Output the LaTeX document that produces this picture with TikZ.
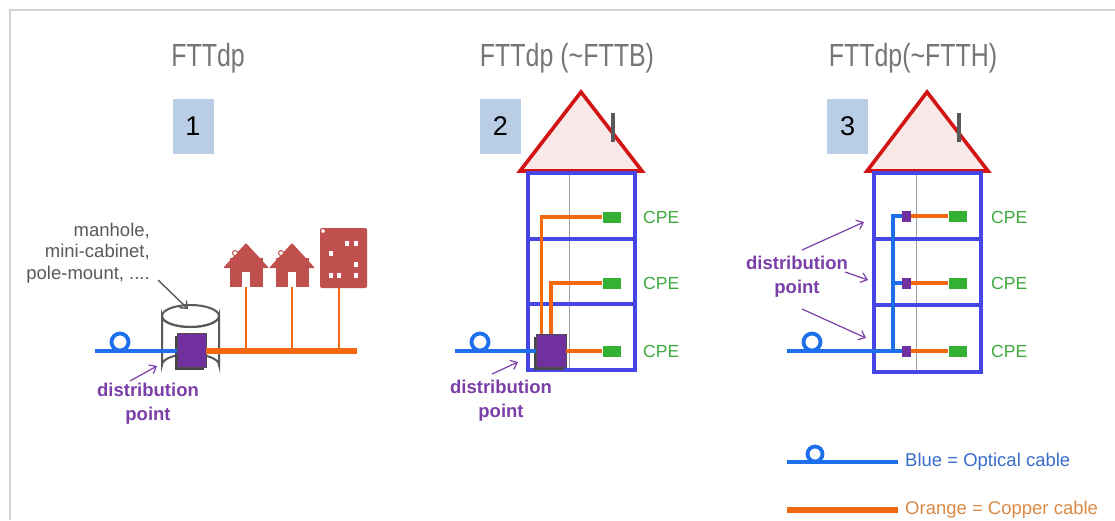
\documentclass[tikz,border=0pt]{standalone}
\usepackage{fontspec}
\setmainfont{Liberation Sans}
\newfontfamily\condfont[FakeStretch=0.78]{Liberation Sans}
\usetikzlibrary{arrows.meta,calc,shadows}

\definecolor{framegray}{HTML}{D4D4D4}
\definecolor{titlegray}{HTML}{767676}
\definecolor{numblue}{HTML}{B9CDE5}
\definecolor{optblue}{HTML}{1E6FEB}
\definecolor{copperor}{HTML}{F4690F}
\definecolor{wallblue}{HTML}{4646E6}
\definecolor{roofred}{HTML}{D21414}
\definecolor{rooffill}{HTML}{F8E8E8}
\definecolor{dppurple}{HTML}{7030A0}
\definecolor{dptext}{HTML}{7B3FA8}
\definecolor{cpegreen}{HTML}{34B034}
\definecolor{cpetext}{HTML}{3DAA3D}
\definecolor{housered}{HTML}{C0504D}
\definecolor{notegray}{HTML}{5A5A5A}
\definecolor{legblue}{HTML}{3A6CCB}
\definecolor{legorange}{HTML}{DB8A45}

\tikzset{
  title/.style={font=\condfont\fontsize{32}{36}\selectfont, text=titlegray, anchor=base, inner sep=0pt},
  numbox/.style={fill=numblue, minimum width=41pt, minimum height=55pt, inner sep=0pt,
    font=\fontsize{27}{30}\selectfont},
  optical/.style={draw=optblue, line width=3.8pt},
  trunk/.style={draw=copperor, line width=6pt},
  drop/.style={draw=copperor, line width=1.8pt},
  copperline/.style={draw=copperor, line width=3.4pt},
  wall/.style={draw=wallblue, line width=3.6pt},
  roof/.style={draw=roofred, fill=rooffill, line width=3.6pt, line join=miter},
  chimney/.style={draw=gray!70!black, line width=4pt},
  midline/.style={draw=gray!75, line width=1pt},
  cpebox/.style={fill=cpegreen, minimum width=18pt, minimum height=11pt, inner sep=0pt},
  cpelabel/.style={text=cpetext, font=\fontsize{17.5}{20}\selectfont, anchor=west, inner sep=0pt},
  dplabel/.style={text=dptext, font=\bfseries\fontsize{18.5}{24}\selectfont, align=center, inner sep=0pt},
  dparrow/.style={draw=dptext, line width=1.2pt, -{Straight Barb[length=6pt,width=10pt]}},
  dpbox/.style={fill=dppurple, draw=gray!60!black, line width=0.6pt, inner sep=0pt,
    drop shadow={shadow xshift=-2.5pt, shadow yshift=-2.5pt, fill=gray!55!black, opacity=1}},
  dpsmall/.style={fill=dppurple, minimum width=9pt, minimum height=11pt, inner sep=0pt},
  house/.style={fill=housered, draw=none},
  legtext/.style={anchor=base west, inner sep=0pt, font=\fontsize{18.5}{21}\selectfont},
}

\begin{document}
\begin{tikzpicture}[x=1pt,y=-1pt]
\useasboundingbox (0,0) rectangle (1115,520);
\fill[white] (0,0) rectangle (1115,520);
% outer frame (top and left edges)
\draw[framegray, line width=1.5pt] (10,520) -- (10,10) -- (1115,10);

% ---------------- titles and numbers ----------------
\node[title] (t1) at (208,66) {FTTdp};
\node[title] (t2) at (567,66) {FTTdp (\char"007E FTTB)};
\node[title] (t3) at (913,66) {FTTdp(\char"007E FTTH)};
\node[numbox] (n1) at (193,126.5) {1};
\node[numbox] (n2) at (500.5,126.5) {2};
\node[numbox] (n3) at (847.5,126.5) {3};

% ================= panel 1 : street =================
% houses
\fill[house, rounded corners=1pt] (223,268) -- (246,243) -- (269,268) -- cycle;
\fill[house] (230,258) rectangle (263,287);
\fill[white] (242,272) rectangle (250,287);
\filldraw[fill=white, draw=housered, line width=1pt] (235,253) circle[radius=2.5];
\fill[house, rounded corners=1pt] (269,268) -- (292,243) -- (315,268) -- cycle;
\fill[house] (276,258) rectangle (309,287);
\fill[white] (288,272) rectangle (296,287);
\filldraw[fill=white, draw=housered, line width=1pt] (281,253) circle[radius=2.5];
% apartment block
\fill[house, rounded corners=2pt] (320,228) rectangle (367,288);
\filldraw[fill=white, draw=housered, line width=1pt] (323,231) circle[radius=2.5];
\foreach \wx/\wy in {345/241, 354/241, 329/251, 354/262, 329/273, 337/273, 354/273}
  \fill[white] (\wx,\wy) rectangle ++(3.5,5);

\coordinate (h1) at (246,287);
\coordinate (h2) at (292,287);
\coordinate (h3) at (339,288);
\coordinate (b1) at (246,351);
\coordinate (b2) at (292,351);
\coordinate (b3) at (339,351);
\draw[drop] (h1) -- (b1);
\draw[drop] (h2) -- (b2);
\draw[drop] (h3) -- (b3);

% cabinet (cylinder)
\filldraw[fill=white, draw=gray!70!black, line width=2pt]
  (162,316) -- (162,365) arc[start angle=180, end angle=360, x radius=28.5, y radius=11]
  -- (219,316) arc[start angle=0, end angle=180, x radius=28.5, y radius=11] -- cycle;
\draw[gray!70!black, line width=2pt] (190.5,316) ellipse[x radius=28.5, y radius=11];

\node[dpbox, minimum width=29pt, minimum height=34pt] (dp1) at (191.5,350) {};
\coordinate (o1s) at (95,351);
\coordinate (c1e) at (357,351);
\draw[optical] (o1s) -- (dp1.west |- o1s);
\draw[optical] (120,342) circle[radius=8.5];
\draw[trunk] (dp1.east |- c1e) -- (c1e);

% note
\node[anchor=east, align=right, inner sep=0pt, text=notegray,
      font=\fontsize{18.5}{21.5}\selectfont] (note) at (150,253)
  {manhole,\\mini-cabinet,\\pole-mount, ....};
\coordinate (na) at (158,280);
\coordinate (nb) at (188,309);
\draw[gray!70!black, line width=1.4pt, -{Straight Barb[length=6pt,width=10pt]}] (na) -- (nb);

\node[dplabel] (dl1) at (148,404) {distribution\\point};
\coordinate (a1s) at (130,381);
\coordinate (a1e) at (157,366);
\draw[dparrow] (a1s) -- (a1e);

% ================= panel 2 : FTTB =================
\draw[roof] (520,171) -- (581,92) -- (642,171) -- cycle;
\draw[chimney] (613,113) -- (613,142);
\draw[midline] (569,173) -- (569,370);
\draw[wall] (528,173) rectangle (635,370);
\draw[wall] (528,239) -- (635,239);
\draw[wall] (528,304) -- (635,304);

\node[cpebox] (c21) at (611.5,217) {};
\node[cpebox] (c22) at (611.5,283) {};
\node[cpebox] (c23) at (611.5,351) {};
\node[cpelabel] (l21) at (643,217) {CPE};
\node[cpelabel] (l22) at (643,283) {CPE};
\node[cpelabel] (l23) at (643,351) {CPE};

\node[dpbox, minimum width=30pt, minimum height=33pt] (dp2) at (551,350.5) {};
\draw[copperline] ($(dp2.north west)+(6,0)$) |- (c21.west);
\draw[copperline] ($(dp2.north)+(0,0)$) |- (c22.west);
\draw[copperline] (dp2.east |- c23) -- (c23.west);

\coordinate (o2s) at (455,351);
\draw[optical] (o2s) -- (dp2.west |- o2s);
\draw[optical] (480,342) circle[radius=8.5];

\node[dplabel] (dl2) at (501,401) {distribution\\point};
\coordinate (a2s) at (492,374);
\coordinate (a2e) at (518,362);
\draw[dparrow] (a2s) -- (a2e);

% ================= panel 3 : FTTH =================
\draw[roof] (867,171) -- (927,92) -- (988,171) -- cycle;
\draw[chimney] (959,113) -- (959,142);
\draw[midline] (916,173) -- (916,372);
\draw[wall] (874,173) rectangle (981,372);
\draw[wall] (874,239) -- (981,239);
\draw[wall] (874,305) -- (981,305);

\node[dpsmall] (p31) at (906.5,216) {};
\node[dpsmall] (p32) at (906.5,283) {};
\node[dpsmall] (p33) at (906.5,351) {};
\node[cpebox] (c31) at (957.5,216) {};
\node[cpebox] (c32) at (957.5,283) {};
\node[cpebox] (c33) at (957.5,351) {};
\node[cpelabel] (l31) at (991,217) {CPE};
\node[cpelabel] (l32) at (991,283) {CPE};
\node[cpelabel] (l33) at (991,351) {CPE};
\draw[copperline] (p31.east) -- (c31.west);
\draw[copperline] (p32.east) -- (c32.west);
\draw[copperline] (p33.east) -- (c33.west);

\coordinate (o3s) at (787,351);
\coordinate (riser) at (893,351);
\draw[optical] (o3s) -- (p33.west);
\draw[optical] (riser) |- (p31.west);
\draw[optical] (riser |- p32) -- (p32.west);
\draw[optical] (812,342) circle[radius=8.5];

\node[dplabel] (dl3) at (797,277) {distribution\\point};
\coordinate (a31s) at (802,250);
\coordinate (a31e) at (864,222);
\coordinate (a32s) at (845,272);
\coordinate (a32e) at (868,280);
\coordinate (a33s) at (802,309);
\coordinate (a33e) at (866,338);
\draw[dparrow] (a31s) -- (a31e);
\draw[dparrow] (a32s) -- (a32e);
\draw[dparrow] (a33s) -- (a33e);

% ================= legend =================
\coordinate (lb1) at (787,462);
\coordinate (lb2) at (898,462);
\coordinate (lo1) at (787,510);
\coordinate (lo2) at (898,510);
\draw[optical] (lb1) -- (lb2);
\draw[optical] (815,454) circle[radius=7.5];
\draw[trunk] (lo1) -- (lo2);
\node[legtext, text=legblue] (lgb) at (905,466) {Blue = Optical cable};
\node[legtext, text=legorange] (lgo) at (905,514) {Orange = Copper cable};
\end{tikzpicture}
\end{document}
